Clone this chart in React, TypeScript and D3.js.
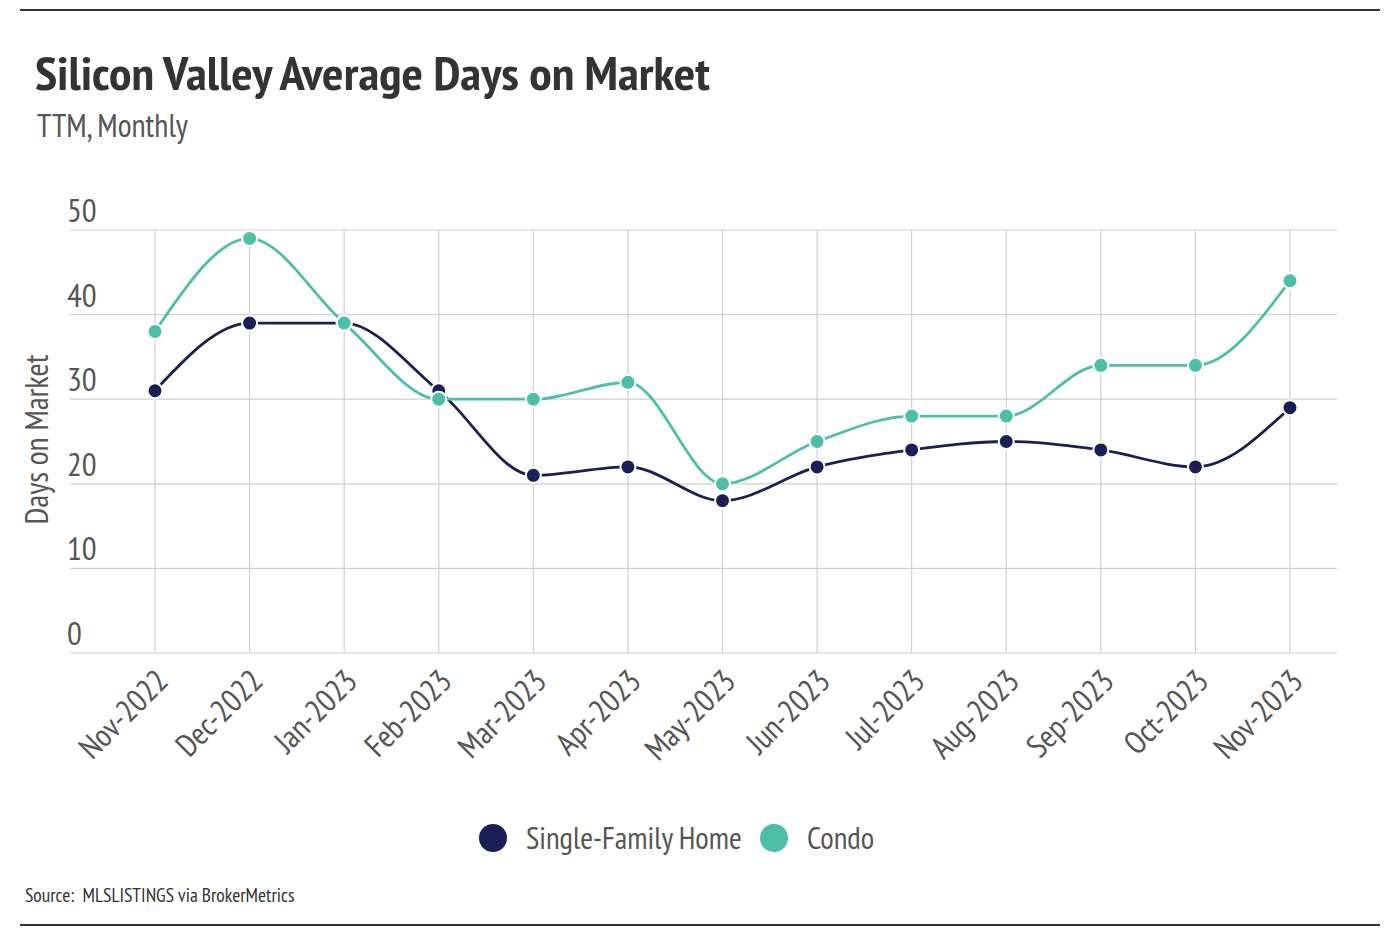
import * as d3 from "d3";
import React, { useEffect, useRef } from "react";

const months = [
  "Nov-2022", "Dec-2022", "Jan-2023", "Feb-2023", "Mar-2023", "Apr-2023", "May-2023",
  "Jun-2023", "Jul-2023", "Aug-2023", "Sep-2023", "Oct-2023", "Nov-2023",
];
const singleFamily = [31, 39, 39, 31, 21, 22, 18, 22, 24, 25, 24, 22, 29];
const condo = [38, 49, 39, 30, 30, 32, 20, 25, 28, 28, 34, 34, 44];
const yTicks = [0, 10, 20, 30, 40, 50];

const FONT = "'PT Sans Narrow', 'Liberation Sans Narrow', 'DejaVu Sans Condensed', 'Roboto', sans-serif";
const NAVY = "#1a2057";
const TEAL = "#4dbfa8";

const App: React.FC = () => {
  const svgRef = useRef<SVGSVGElement>(null);

  useEffect(() => {
    document.body.style.margin = "0";
    const svg = d3.select(svgRef.current);
    svg.selectAll("*").remove();
    svg.attr("width", 1396).attr("height", 938).style("font-family", FONT);

    const x = d3.scalePoint<string>().domain(months).range([155, 1290]);
    const y = d3.scaleLinear().domain([0, 50]).range([653, 230]);

    // frame lines
    svg.append("line").attr("x1", 20).attr("x2", 1380).attr("y1", 10).attr("y2", 10)
      .attr("stroke", "#333").attr("stroke-width", 2);
    svg.append("line").attr("x1", 20).attr("x2", 1380).attr("y1", 925).attr("y2", 925)
      .attr("stroke", "#333").attr("stroke-width", 2);

    svg.append("text").attr("x", 35).attr("y", 90).attr("fill", "#333")
      .attr("font-size", 46).attr("font-weight", "bold")
      .attr("textLength", 675).attr("lengthAdjust", "spacingAndGlyphs")
      .text("Silicon Valley Average Days on Market");
    svg.append("text").attr("x", 37).attr("y", 137).attr("fill", "#555")
      .attr("font-size", 32).text("TTM, Monthly");

    // grid
    const grid = svg.append("g").attr("stroke", "#cfcfcf").attr("stroke-width", 1.2);
    grid.selectAll("line.h").data(yTicks).join("line").attr("class", "h")
      .attr("x1", 70).attr("x2", 1337)
      .attr("y1", (d) => y(d)).attr("y2", (d) => y(d));
    grid.selectAll("line.v").data(months).join("line").attr("class", "v")
      .attr("x1", (d) => x(d)!).attr("x2", (d) => x(d)!)
      .attr("y1", y(50)).attr("y2", y(0));

    // y labels
    svg.append("g").selectAll("text").data(yTicks).join("text")
      .attr("x", 67).attr("y", (d) => y(d) - 8)
      .attr("fill", "#555").attr("font-size", 33)
      .text((d) => d);

    svg.append("text")
      .attr("transform", `translate(48,${y(25) - 2}) rotate(-90)`)
      .attr("text-anchor", "middle").attr("fill", "#555").attr("font-size", 32)
      .text("Days on Market");

    // x labels
    svg.append("g").selectAll("text").data(months).join("text")
      .attr("transform", (d) => `translate(${x(d)! + 15},${y(0) + 30}) rotate(-45)`)
      .attr("text-anchor", "end").attr("fill", "#555").attr("font-size", 32)
      .text((d) => d);

    const line = d3.line<number>()
      .x((_, i) => x(months[i])!)
      .y((d) => y(d))
      .curve(d3.curveMonotoneX);

    const series = [
      { name: "Single-Family Home", values: singleFamily, color: NAVY },
      { name: "Condo", values: condo, color: TEAL },
    ];

    series.forEach((s) => {
      svg.append("path").attr("d", line(s.values)).attr("fill", "none")
        .attr("stroke", s.color).attr("stroke-width", 2.8);
    });
    series.forEach((s) => {
      svg.append("g").selectAll("circle").data(s.values).join("circle")
        .attr("cx", (_, i) => x(months[i])!).attr("cy", (d) => y(d))
        .attr("r", 7.5).attr("fill", s.color)
        .attr("stroke", "#fff").attr("stroke-width", 2);
    });

    // legend
    const legend = svg.append("g");
    legend.append("circle").attr("cx", 493).attr("cy", 838).attr("r", 14).attr("fill", NAVY);
    legend.append("text").attr("x", 526).attr("y", 849).attr("font-size", 31)
      .attr("fill", "#555").text("Single-Family Home");
    legend.append("circle").attr("cx", 774).attr("cy", 838).attr("r", 14).attr("fill", TEAL);
    legend.append("text").attr("x", 807).attr("y", 849).attr("font-size", 31)
      .attr("fill", "#555").text("Condo");

    svg.append("text").attr("x", 25).attr("y", 902).attr("font-size", 19.5)
      .attr("fill", "#333").attr("xml:space", "preserve")
      .text("Source:  MLSLISTINGS via BrokerMetrics");
  }, []);

  return <svg ref={svgRef} style={{ display: "block" }} />;
};

export default App;
